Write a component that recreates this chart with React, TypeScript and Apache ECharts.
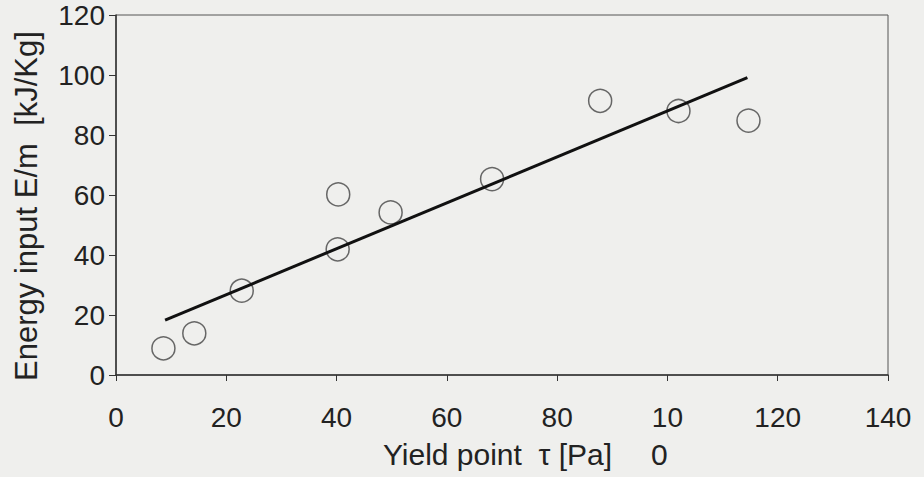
import React, { useEffect, useRef } from "react";
import * as echarts from "echarts";

const yieldPoint = [8.6, 14.2, 22.8, 40.2, 40.3, 49.8, 68.2, 87.8, 102.0, 114.7];
const energyInput = [8.9, 13.9, 28.1, 41.9, 60.2, 54.2, 65.3, 91.4, 88.0, 84.8];
const fitX = [8.9, 114.5];
const fitY = [18.3, 99.1];
const xTicks = [0, 20, 40, 60, 80, 100, 120, 140];
const yTicks = [0, 20, 40, 60, 80, 100, 120];

const FONT = "'Liberation Sans', Arial, sans-serif";

export default function App() {
  const ref = useRef<HTMLDivElement>(null);
  useEffect(() => {
    document.body.style.margin = "0";
    const chart = echarts.init(ref.current!, null, { renderer: "svg" });
    chart.setOption({
      animation: false,
      backgroundColor: "#efefed",
      grid: {
        left: 116,
        right: 36,
        top: 15,
        bottom: 102,
        containLabel: false,
        outerBoundsMode: "none",
        show: true,
        borderColor: "#555",
        borderWidth: 1,
        backgroundColor: "transparent",
      },
      xAxis: {
        type: "value",
        min: xTicks[0],
        max: xTicks[xTicks.length - 1],
        interval: 20,
        name: "Yield point  \u03c4 [Pa]",
        nameLocation: "middle",
        nameGap: 64,
        nameMoveOverlap: false,
        nameTextStyle: { fontFamily: FONT, fontSize: 30, color: "#222", padding: [0, 9, 0, 0] },
        splitLine: { show: false },
        axisLine: { show: true, lineStyle: { color: "#333", width: 1.5 } },
        axisTick: { show: true, inside: false, length: 6, lineStyle: { color: "#333", width: 1 } },
        axisLabel: {
          fontFamily: FONT,
          fontSize: 28,
          color: "#222",
          margin: 24,
          lineHeight: 37,
          formatter: (v: number) => (v === 100 ? "{a|10}\n{b|0}{c|}" : String(v)),
          rich: {
            a: { fontFamily: FONT, fontSize: 28, color: "#222", lineHeight: 37 },
            b: { fontFamily: FONT, fontSize: 30, color: "#222", lineHeight: 37 },
            c: { width: 16, lineHeight: 37 },
          },
        },
      },
      yAxis: {
        type: "value",
        min: yTicks[0],
        max: yTicks[yTicks.length - 1],
        interval: 20,
        name: "Energy input E/m  [kJ/Kg]",
        nameLocation: "middle",
        nameGap: 74,
        nameMoveOverlap: false,
        nameTextStyle: { fontFamily: FONT, fontSize: 31, color: "#222", padding: [0, 22, 0, 0] },
        splitLine: { show: false },
        axisLine: { show: true, lineStyle: { color: "#333", width: 1.5 } },
        axisTick: { show: true, inside: false, length: 7, lineStyle: { color: "#333", width: 1 } },
        axisLabel: { fontFamily: FONT, fontSize: 28, color: "#222", margin: 11, padding: [6, 0, 0, 0] },
      },
      series: [
        {
          type: "line",
          data: fitX.map((x, i) => [x, fitY[i]]),
          symbol: "none",
          lineStyle: { color: "#111", width: 3 },
          z: 3,
        },
        {
          type: "scatter",
          data: yieldPoint.map((x, i) => [x, energyInput[i]]),
          symbol: "circle",
          symbolSize: 23,
          itemStyle: { color: "transparent", borderColor: "#444", borderWidth: 1.5 },
          z: 2,
        },
      ],
    });
    return () => chart.dispose();
  }, []);
  return (
    <div
      ref={ref}
      style={{ position: "fixed", left: 0, top: 0, width: 924, height: 477 }}
    />
  );
}
